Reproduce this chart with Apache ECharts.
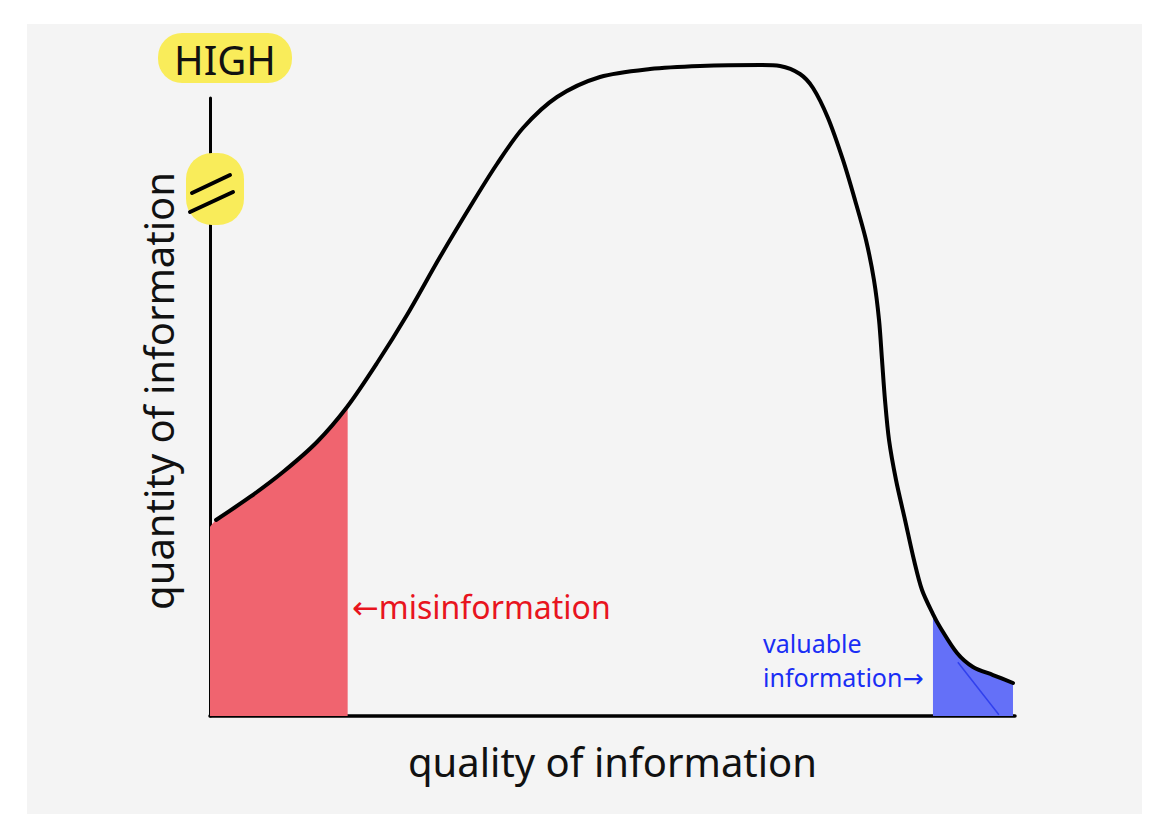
<!DOCTYPE html>
<html><head><meta charset="utf-8">
<script src="https://cdn.jsdelivr.net/npm/echarts@6/dist/echarts.min.js"></script>
<style>
html,body{margin:0;padding:0;background:#fff;}
#wrap{position:relative;width:1156px;height:814px;background:#fff;overflow:hidden;}
#panel{position:absolute;left:27px;top:24px;width:1115px;height:790px;background:#f4f4f4;}
#chart{position:absolute;left:0;top:0;width:1156px;height:814px;}
</style></head>
<body><div id="wrap"><div id="panel"></div><div id="chart"></div></div>
<script>
// quality of information (x, 0-100) vs quantity of information (y, 0-100 = HIGH)
const curveX = [0.75, 4.97, 9.07, 13.29, 17.02, 20.75, 24.47, 28.57, 32.67, 35.65, 38.88, 43.11, 48.45, 54.66, 60.87, 68.32, 70.81, 73.29, 74.91, 76.77, 78.63, 80.12, 81.49, 82.48, 83.11, 83.48, 83.85, 84.35, 85.22, 86.34, 87.45, 88.45, 89.81, 90.68, 92.80, 94.78, 97.27, 99.75];
const curveY = [31.72, 35.44, 39.48, 44.34, 50.0, 57.12, 64.89, 74.27, 83.17, 89.32, 95.15, 100.16, 103.40, 104.69, 105.18, 105.34, 105.18, 103.88, 101.62, 96.76, 89.97, 83.50, 77.02, 70.55, 64.08, 57.61, 51.13, 44.66, 38.19, 31.72, 25.24, 20.39, 16.50, 14.40, 10.19, 7.93, 6.63, 5.34];

const misinfoX = [0, 0.75, 4.97, 9.07, 13.29, 17.1];
const misinfoY = [30.6, 31.72, 35.44, 39.48, 44.34, 50.3];

const valuableX = [89.81, 90.68, 92.80, 94.78, 97.27, 99.75];
const valuableY = [16.9, 14.40, 10.19, 7.93, 6.63, 5.34];

const strokeX = [92.9, 98.0];
const strokeY = [8.7, 0.2];

const xName = 'quality of information';
const yName = 'quantity of information';
const topLabel = 'HIGH';
const redLabel = '←misinformation';
const blueLabel = 'valuable\ninformation→';

const zip = (a, b) => a.map((v, i) => [v, b[i]]);
const FONT = '"Noto Sans", "DejaVu Sans", sans-serif';

const chart = echarts.init(document.getElementById('chart'), null, {renderer: 'svg'});
chart.setOption({
  backgroundColor: 'transparent',
  animation: false,
  grid: {left: 210, right: 141, top: 98, bottom: 98},
  xAxis: {
    type: 'value', min: 0, max: 100,
    name: xName, nameLocation: 'middle', nameGap: 25,
    nameTextStyle: {fontSize: 40, color: '#111', fontFamily: FONT},
    axisLine: {show: true, lineStyle: {color: '#000', width: 3.5}},
    axisTick: {show: false}, axisLabel: {show: false}, splitLine: {show: false}
  },
  yAxis: {
    type: 'value', min: 0, max: 100,
    name: yName, nameLocation: 'middle', nameRotate: 90, nameGap: 32,
    nameTextStyle: {fontSize: 40, color: '#111', fontFamily: FONT, padding: [0, 0, 0, 32]},
    axisLine: {show: true, lineStyle: {color: '#000', width: 3}},
    axisTick: {show: false}, axisLabel: {show: false}, splitLine: {show: false}
  },
  series: [
    {
      name: 'misinformation', type: 'line', data: zip(misinfoX, misinfoY),
      smooth: 0.3, symbol: 'none', lineStyle: {width: 0}, clip: false,
      areaStyle: {color: '#f0646f', opacity: 1}, z: 1
    },
    {
      name: 'valuable information', type: 'line', data: zip(valuableX, valuableY),
      smooth: 0.3, symbol: 'none', lineStyle: {width: 0}, clip: false,
      areaStyle: {color: '#6470f8', opacity: 1}, z: 1
    },
    {
      name: 'stroke', type: 'line', data: zip(strokeX, strokeY),
      symbol: 'none', lineStyle: {width: 1.5, color: '#3040ee'}, clip: false, z: 1
    },
    {
      name: 'information', type: 'line', data: zip(curveX, curveY),
      smooth: 0.3, symbol: 'none', clip: false,
      lineStyle: {width: 4, color: '#000', cap: 'round', join: 'round'}, z: 3
    }
  ],
  graphic: [
    {type: 'rect', z: 100, shape: {x: 158, y: 33, width: 134, height: 50, r: 24}, style: {fill: '#f9ec5a'}},
    {type: 'text', z: 101, x: 225, y: 59, style: {text: topLabel, font: '40px ' + FONT, fill: '#111', textAlign: 'center', textVerticalAlign: 'middle'}},
    {type: 'rect', z: 100, shape: {x: 186, y: 153, width: 58, height: 72, r: 26}, style: {fill: '#f9ec5a'}},
    {type: 'line', z: 101, shape: {x1: 192, y1: 193, x2: 230, y2: 175}, style: {stroke: '#000', lineWidth: 4, lineCap: 'round'}},
    {type: 'line', z: 101, shape: {x1: 190, y1: 212, x2: 233, y2: 192}, style: {stroke: '#000', lineWidth: 4, lineCap: 'round'}},
    {type: 'text', z: 101, x: 352, y: 606, style: {text: redLabel, font: '32px ' + FONT, fill: '#e8141e', textAlign: 'left', textVerticalAlign: 'middle'}},
    {type: 'text', z: 101, x: 763, y: 626, style: {text: blueLabel, font: '25px ' + FONT, fill: '#1a2ef5', textAlign: 'left', textVerticalAlign: 'top', lineHeight: 34}}
  ]
});
</script>
</body></html>
